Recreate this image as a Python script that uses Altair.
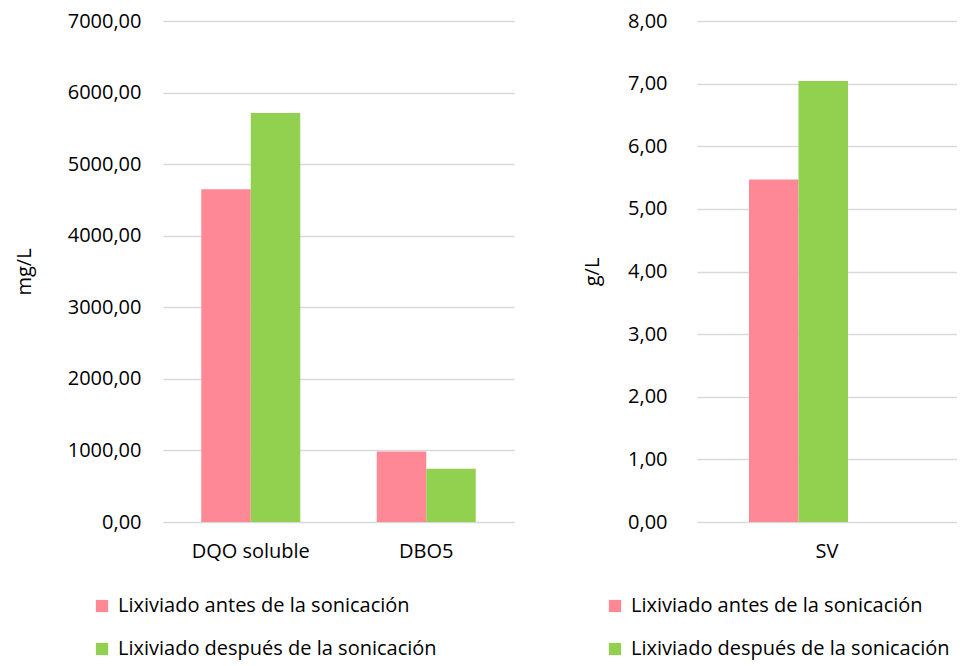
import altair as alt
import pandas as pd

series = ["Lixiviado antes de la sonicación", "Lixiviado después de la sonicación"]
colors = ["#FF8896", "#92D050"]

left_categories = ["DQO soluble", "DBO5"]
left_antes = [4650, 985]
left_despues = [5715, 745]
left_ticks = [0, 1000, 2000, 3000, 4000, 5000, 6000, 7000]

right_categories = ["SV"]
right_antes = [5.47]
right_despues = [7.04]
right_ticks = [0, 1, 2, 3, 4, 5, 6, 7, 8]

FONT = "Open Sans"
FS = 20
GRID = "#D9D9D9"
label_expr = "replace(format(datum.value, '.2f'), '.', ',')"


def frame(cats, a, d):
    rows = []
    for c, va, vd in zip(cats, a, d):
        rows.append({"cat": c, "serie": series[0], "valor": va})
        rows.append({"cat": c, "serie": series[1], "valor": vd})
    return pd.DataFrame(rows)


def panel(df, cats, ticks, title, width, pin, pout, legend_x, lpad, tpad):
    return alt.Chart(df).mark_bar().encode(
        x=alt.X("cat:N", sort=cats, title=None,
                scale=alt.Scale(paddingInner=pin, paddingOuter=pout),
                axis=alt.Axis(labelAngle=0, ticks=False, domain=False, labelPadding=19,
                              labelFontSize=FS, labelFont=FONT, labelColor="#000000")),
        xOffset=alt.XOffset("serie:N", sort=series,
                            scale=alt.Scale(paddingInner=0, paddingOuter=0)),
        y=alt.Y("valor:Q",
                scale=alt.Scale(domain=[ticks[0], ticks[-1]], nice=False),
                axis=alt.Axis(values=ticks, labelExpr=label_expr, title=title,
                              grid=True, gridColor=GRID, gridWidth=1.3, domain=False,
                              ticks=False, labelPadding=lpad, labelFontSize=FS,
                              labelFont=FONT, labelColor="#000000",
                              titleFont=FONT, titleFontSize=FS, titleFontWeight="normal",
                              titleColor="#000000", titlePadding=tpad)),
        color=alt.Color("serie:N", sort=series,
                        scale=alt.Scale(domain=series, range=colors),
                        legend=alt.Legend(title=None, orient="none", legendX=legend_x,
                                          legendY=575, direction="vertical",
                                          symbolType="square", symbolSize=150,
                                          symbolStrokeWidth=0, labelFontSize=FS,
                                          labelFont=FONT, labelColor="#000000",
                                          labelOffset=6, rowPadding=23,
                                          labelLimit=400)),
    ).properties(width=width, height=501)


left = panel(frame(left_categories, left_antes, left_despues), left_categories,
             left_ticks, "mg/L", 351, 0.436, 0.218, -71, 22, 33)
right = panel(frame(right_categories, right_antes, right_despues), right_categories,
              right_ticks, "g/L", 260, 0.4, 0.2, -92, 30, 25)

chart = alt.hconcat(left, right, spacing=68).resolve_scale(
    y="independent", color="independent"
).properties(
    padding={"left": 6, "top": 3, "right": 0, "bottom": 3}
).configure_view(stroke=None)

chart.save("out.html", embed_options={"renderer": "svg", "actions": False})
